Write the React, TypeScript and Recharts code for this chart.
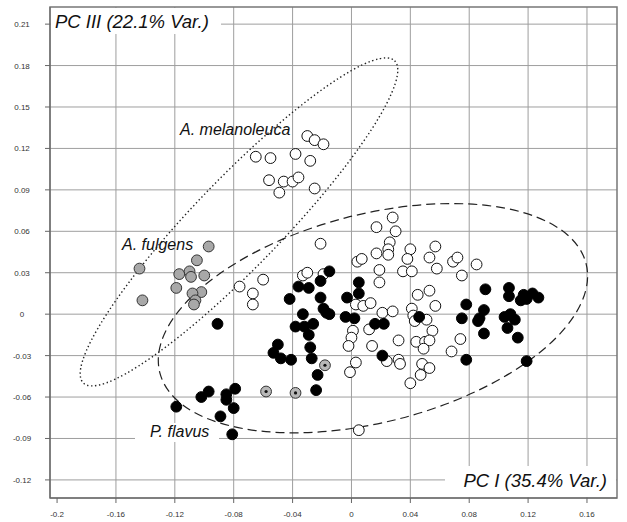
import {
  CartesianGrid,
  Customized,
  ReferenceArea,
  ReferenceDot,
  Scatter,
  ScatterChart,
  XAxis,
  YAxis,
} from "recharts";

const xTicks = [-0.2, -0.16, -0.12, -0.08, -0.04, 0, 0.04, 0.08, 0.12, 0.16];
const yTicks = [0.21, 0.18, 0.15, 0.12, 0.09, 0.06, 0.03, 0, -0.03, -0.06, -0.09, -0.12];
const xGrid = [-0.16, -0.12, -0.08, -0.04, 0, 0.04, 0.08, 0.12, 0.16];
const xDomain = [-0.2048, 0.1804];
const yDomain = [-0.1331, 0.2224];

// PC I / PC III scores
const melanoleuca = [
  [-0.030, 0.129], [-0.025, 0.126], [-0.019, 0.123], [-0.065, 0.114], [-0.055, 0.113],
  [-0.038, 0.116], [-0.028, 0.111], [-0.056, 0.097], [-0.046, 0.096], [-0.040, 0.096],
  [-0.036, 0.099], [-0.049, 0.088], [-0.025, 0.091],
];

const fulgens = [
  [-0.097, 0.049], [-0.144, 0.033], [-0.105, 0.039], [-0.117, 0.029], [-0.110, 0.031],
  [-0.109, 0.027], [-0.100, 0.028], [-0.119, 0.019], [-0.102, 0.016], [-0.108, 0.015],
  [-0.106, 0.010], [-0.107, 0.007], [-0.142, 0.010],
];

const openOther = [
  [-0.076, 0.020], [-0.060, 0.025], [-0.067, 0.015], [-0.067, 0.007], [-0.021, 0.051],
  [-0.033, 0.028], [-0.030, 0.030], [-0.019, 0.029], [0.017, 0.063], [0.028, 0.070],
  [0.030, 0.060], [0.026, 0.052], [0.025, 0.047], [0.025, 0.043], [0.017, 0.044],
  [0.004, 0.038], [0.007, 0.040], [0.019, 0.032], [0.019, 0.023], [0.040, 0.047],
  [0.057, 0.049], [0.038, 0.040], [0.053, 0.041], [0.058, 0.033], [0.035, 0.031],
  [0.041, 0.031], [0.069, 0.038], [0.072, 0.041], [0.085, 0.036], [0.075, 0.028],
  [0.045, 0.014], [0.053, 0.017], [0.003, 0.007], [0.008, 0.006], [0.013, 0.008],
  [0.021, 0.001], [0.028, 0.002], [0.041, 0.004], [0.057, 0.006], [0.042, -0.001],
  [0.043, -0.005], [0.051, -0.004], [0.012, -0.011], [0.055, -0.012], [0.001, -0.012],
  [0.000, -0.017], [-0.002, -0.023], [0.014, -0.023], [0.032, -0.019], [0.044, -0.020],
  [0.050, -0.020], [0.053, -0.019], [0.049, -0.025], [0.068, -0.027], [0.074, -0.018],
  [0.003, -0.035], [-0.001, -0.042], [0.024, -0.034], [0.032, -0.033], [0.033, -0.036],
  [0.048, -0.036], [0.053, -0.039], [0.047, -0.044], [0.040, -0.050], [0.005, -0.084],
];

const flavus = [
  [-0.091, -0.007], [-0.119, -0.067], [-0.102, -0.060], [-0.097, -0.056], [-0.085, -0.058],
  [-0.085, -0.062], [-0.079, -0.054], [-0.080, -0.068], [-0.089, -0.074], [-0.081, -0.087],
  [-0.050, -0.022], [-0.053, -0.028], [-0.048, -0.032], [-0.041, -0.033], [-0.042, 0.011],
  [-0.036, 0.020], [-0.029, 0.019], [-0.033, 0.000], [-0.038, -0.009], [-0.032, -0.009],
  [-0.026, -0.007], [-0.029, -0.015], [-0.028, -0.024], [-0.027, -0.032], [-0.023, -0.044],
  [-0.024, -0.055], [-0.021, 0.024], [-0.015, 0.031], [-0.021, 0.012], [-0.019, 0.004],
  [-0.017, 0.001], [-0.015, 0.000], [-0.003, 0.012], [0.005, 0.023], [0.005, 0.015],
  [-0.004, -0.002], [0.002, -0.003], [0.016, -0.007], [0.022, -0.007], [0.021, -0.030],
  [0.046, -0.002], [0.078, 0.007], [0.075, -0.003], [0.091, 0.018], [0.090, 0.003],
  [0.087, -0.003], [0.086, -0.005], [0.090, -0.014], [0.078, -0.033], [0.107, 0.019],
  [0.107, 0.013], [0.115, 0.010], [0.117, 0.014], [0.119, 0.011], [0.123, 0.015],
  [0.127, 0.012], [0.104, -0.002], [0.108, 0.000], [0.111, -0.004], [0.106, -0.010],
  [0.113, -0.017], [0.119, -0.034],
];

const marked = [[-0.058, -0.056], [-0.038, -0.057], [-0.018, -0.037]];

// ellipse centres in data units; radii/tilt in px
const ellipses = [
  { x: -0.0764, y: 0.0668, rx: 224, ry: 44, tilt: -46, dash: "1.4 2.6", width: 1.4 },
  { x: 0.0146, y: -0.0029, rx: 220, ry: 104, tilt: -14.4, dash: "9 5", width: 1.2 },
];

const pts = (arr: number[][]) => arr.map(([x, y]) => ({ x, y }));

const font = "'Liberation Sans', Arial, sans-serif";

const dot = (fill: string, stroke: string) => (p: any) => (
  <circle cx={p.cx} cy={p.cy} r={5.4} fill={fill} stroke={stroke} strokeWidth={1} />
);

const markedDot = (p: any) => (
  <g>
    <circle cx={p.cx} cy={p.cy} r={5.4} fill="#b8b8b8" stroke="#333" strokeWidth={1} />
    <circle cx={p.cx} cy={p.cy} r={1.6} fill="#111" />
  </g>
);

function YTick(props: any) {
  const { x, y, payload } = props;
  return (
    <text x={x - 21} y={y} dy={3} textAnchor="middle" fontSize={8} fill="#333" fontFamily={font}>
      {payload.value}
    </text>
  );
}

function XTick(props: any) {
  const { x, y, payload } = props;
  return (
    <text x={x} y={y} dy={8} textAnchor="middle" fontSize={8} fill="#333" fontFamily={font}>
      {payload.value}
    </text>
  );
}

function Annotations() {
  return (
    <g fontFamily={font} fontStyle="italic" fill="#111">
      <rect x={51} y={8} width={170} height={26} fill="#fff" />
      <text x={55} y={28} fontSize={18.5}>PC III (22.1% Var.)</text>
      <rect x={445} y={466} width={171} height={31} fill="#fff" />
      <text x={607} y={487} fontSize={18.5} textAnchor="end">PC I (35.4% Var.)</text>
      <text x={180} y={135} fontSize={16}>A. melanoleuca</text>
      <text x={122} y={250} fontSize={16}>A. fulgens</text>
      <rect x={135} y={423} width={84} height={19} fill="#fff" />
      <text x={150} y={437} fontSize={16}>P. flavus</text>
    </g>
  );
}

export default function App() {
  return (
    <div style={{ position: "absolute", left: 0, top: 0, width: 627, height: 522, background: "#fff" }}>
      <ScatterChart width={627} height={522} margin={{ top: 7, right: 10, bottom: 0, left: 0 }}>
        <CartesianGrid stroke="#9e9e9e" strokeWidth={1} verticalValues={xGrid} horizontalValues={yTicks} />
        <XAxis
          type="number"
          dataKey="x"
          domain={xDomain}
          ticks={xTicks}
          allowDataOverflow
          height={24}
          tickSize={5}
          tickMargin={6}
          tick={<XTick />}
          stroke="#666"
        />
        <YAxis
          type="number"
          dataKey="y"
          domain={yDomain}
          ticks={yTicks}
          allowDataOverflow
          width={50}
          tickSize={5}
          tick={<YTick />}
          stroke="#666"
        />
        <ReferenceArea
          x1={xDomain[0]}
          x2={xDomain[1]}
          y1={yDomain[0]}
          y2={yDomain[1]}
          fill="none"
          stroke="#777"
          strokeWidth={1.5}
        />
        <Customized component={<Annotations />} />
        {ellipses.map((e, i) => (
          <ReferenceDot
            key={i}
            x={e.x}
            y={e.y}
            r={1}
            shape={(p: any) => (
              <ellipse
                cx={p.cx}
                cy={p.cy}
                rx={e.rx}
                ry={e.ry}
                transform={`rotate(${e.tilt} ${p.cx} ${p.cy})`}
                fill="none"
                stroke="#222"
                strokeWidth={e.width}
                strokeDasharray={e.dash}
              />
            )}
          />
        ))}
        <Scatter data={pts(melanoleuca)} shape={dot("#fff", "#111")} isAnimationActive={false} />
        <Scatter data={pts(openOther)} shape={dot("#fff", "#111")} isAnimationActive={false} />
        <Scatter data={pts(flavus)} shape={dot("#000", "#000")} isAnimationActive={false} />
        <Scatter data={pts(fulgens)} shape={dot("#a8a8a8", "#333")} isAnimationActive={false} />
        <Scatter data={pts(marked)} shape={markedDot} isAnimationActive={false} />
      </ScatterChart>
    </div>
  );
}
